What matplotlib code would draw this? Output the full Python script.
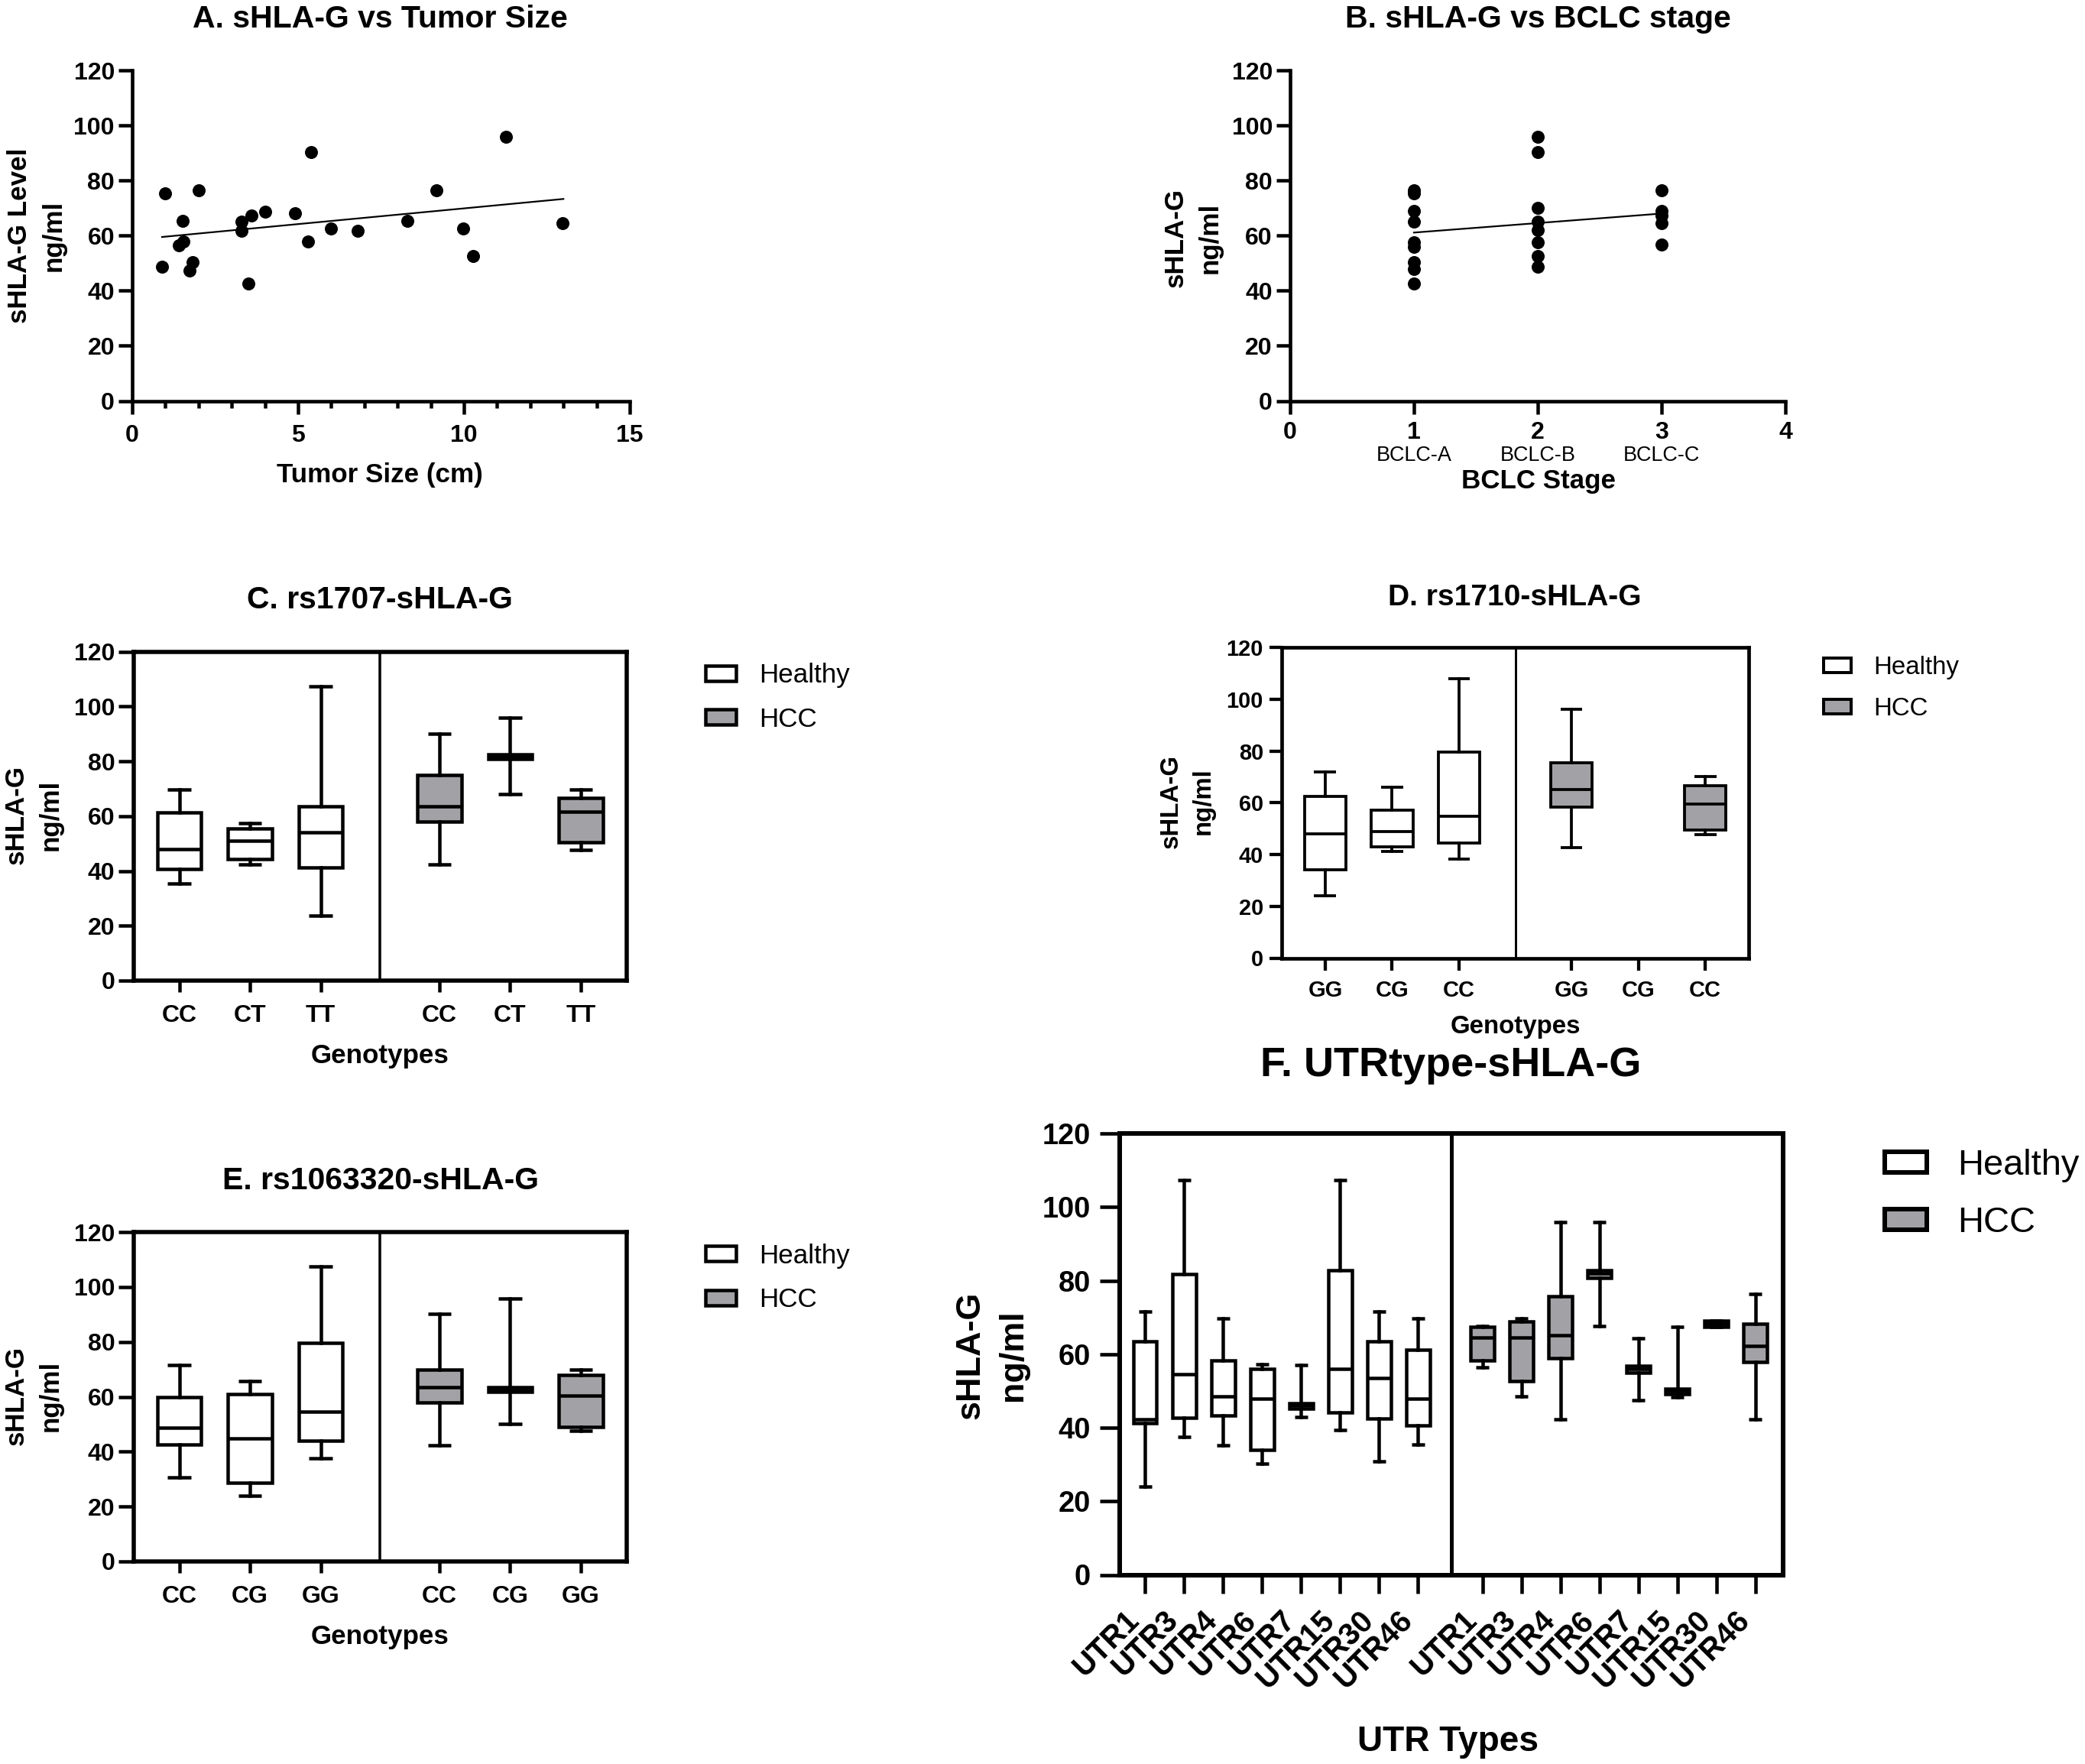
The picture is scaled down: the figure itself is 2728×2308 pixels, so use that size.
import numpy as np
import matplotlib
matplotlib.use('Agg')
import matplotlib.pyplot as plt
from matplotlib.patches import Patch
from matplotlib.ticker import MultipleLocator
from matplotlib.transforms import blended_transform_factory

plt.rcParams['font.family'] = ['Liberation Sans', 'DejaVu Sans']
plt.rcParams['font.weight'] = 'bold'
plt.rcParams['axes.titleweight'] = 'bold'
plt.rcParams['axes.labelweight'] = 'bold'

# ---------------- data ----------------
# A. sHLA-G vs tumour size
tumor_size = [1.0, 0.9, 1.41, 1.54, 1.52, 1.72, 1.83, 2.01, 3.3, 3.3, 3.6, 3.5,
              4.0, 4.9, 5.4, 5.3, 6.0, 6.8, 8.3, 9.18, 9.97, 10.28, 11.27, 12.97]
tumor_shlag = [75.4, 48.6, 56.4, 57.9, 65.4, 47.4, 50.3, 76.5, 65.0, 61.8, 67.3, 42.6,
               68.8, 68.2, 90.2, 57.8, 62.7, 61.6, 65.4, 76.5, 62.5, 52.7, 95.9, 64.4]
fitA_x = [0.9, 13.0]
fitA_y = [59.5, 73.3]

# B. sHLA-G vs BCLC stage
bclc_stage = [1, 1, 1, 1, 1, 1, 1, 1, 1, 2, 2, 2, 2, 2, 2, 2, 2, 3, 3, 3, 3, 3]
bclc_shlag = [76.5, 75.4, 69.0, 65.0, 57.5, 55.8, 50.3, 47.8, 42.6,
              95.9, 90.2, 70.0, 65.0, 62.1, 57.5, 52.6, 48.6,
              76.5, 69.0, 67.3, 64.4, 56.7]
fitB_x = [1, 3]
fitB_y = [61.1, 68.0]
bclc_ticks = [0, 1, 2, 3, 4]
bclc_names = ['BCLC-A', 'BCLC-B', 'BCLC-C']

groups = ['Healthy', 'HCC']
# box stats: [whisker low, Q1, median, Q3, whisker high]
rs1707_genotypes = ['CC', 'CT', 'TT']
rs1707_healthy = [[35.3, 40.7, 48.0, 61.3, 69.8],
                  [42.3, 44.4, 51.0, 55.6, 57.4],
                  [23.8, 41.4, 54.0, 63.7, 107.3]]
rs1707_hcc = [[42.3, 57.9, 63.5, 75.1, 90.1],
              [68.0, 80.8, 81.6, 82.5, 95.8],
              [47.6, 50.4, 61.7, 66.7, 69.8]]

rs1710_genotypes = ['GG', 'CG', 'CC']
rs1710_healthy = [[24.2, 34.1, 48.0, 62.4, 72.0],
                  [41.3, 42.9, 48.9, 57.2, 66.0],
                  [38.1, 44.3, 54.8, 79.5, 108.0]]
rs1710_hcc = [[42.8, 58.2, 65.1, 75.3, 96.1],
              None,
              [47.7, 49.5, 59.6, 66.5, 70.2]]

rs1063320_genotypes = ['CC', 'CG', 'GG']
rs1063320_healthy = [[30.7, 42.5, 48.8, 60.0, 71.5],
                     [24.0, 28.6, 44.9, 61.0, 65.7],
                     [37.7, 44.0, 54.6, 79.6, 107.5]]
rs1063320_hcc = [[42.3, 58.0, 63.6, 70.0, 90.2],
                 [50.0, 61.7, 62.5, 63.4, 95.9],
                 [47.7, 48.9, 60.4, 67.9, 70.0]]

utr_types = ['UTR1', 'UTR3', 'UTR4', 'UTR6', 'UTR7', 'UTR15', 'UTR30', 'UTR46']
utr_healthy = [[23.9, 41.3, 42.3, 63.5, 71.5],
               [37.5, 42.8, 54.6, 81.7, 107.4],
               [35.2, 43.3, 48.6, 58.2, 69.7],
               [30.2, 34.0, 47.9, 55.9, 57.3],
               [43.0, 45.1, 46.0, 46.6, 57.1],
               [39.4, 44.2, 56.1, 82.8, 107.4],
               [30.9, 42.5, 53.6, 63.5, 71.5],
               [35.4, 40.6, 47.9, 61.2, 69.7]]
utr_hcc = [[56.5, 58.2, 64.5, 67.4, 67.7],
           [48.5, 52.6, 64.5, 68.8, 69.7],
           [42.3, 58.9, 65.1, 75.7, 95.9],
           [67.7, 80.8, 82.0, 82.8, 95.9],
           [47.4, 55.0, 56.0, 56.8, 64.4],
           [48.4, 49.1, 50.0, 50.7, 67.4],
           [67.4, 67.4, 68.3, 69.0, 69.0],
           [42.3, 57.8, 62.2, 68.2, 76.4]]

y_ticks = [0, 20, 40, 60, 80, 100, 120]

# ---------------- figure ----------------
W, H = 2728, 2308
DPI = 72
GRAY = '#a2a2a6'
fig = plt.figure(figsize=(W / DPI, H / DPI), dpi=DPI)
fig.patch.set_facecolor('white')


def add_ax(l, r, t, b):
    ax = fig.add_axes([l / W, (H - b) / H, (r - l) / W, (b - t) / H])
    ax._box_px = (l, r, t, b)
    return ax


def axc(ax, X, Y):
    l, r, t, b = ax._box_px
    return (X - l) / (r - l), (b - Y) / (b - t)


def put_title(ax, text, X, Yb, fs):
    x, y = axc(ax, X, Yb)
    ax.set_title(text, fontsize=fs, x=x, y=y, va='baseline', pad=0)


def put_xlabel(ax, text, X, Yb, fs):
    ax.set_xlabel(text, fontsize=fs)
    ax.xaxis.label.set_va('baseline')
    ax.xaxis.set_label_coords(*axc(ax, X, Yb))


def put_ylabel(ax, text, X, Y, fs, ls=1.45):
    ax.set_ylabel(text, fontsize=fs, linespacing=ls)
    ax.yaxis.label.set_va('center')
    ax.yaxis.set_label_coords(*axc(ax, X, Y))


def put_legend(ax, X, Y, fs, hl, hh, pad, lw, lsp=0.7):
    handles = [Patch(facecolor='white', edgecolor='black', linewidth=lw, label=groups[0]),
               Patch(facecolor=GRAY, edgecolor='black', linewidth=lw, label=groups[1])]
    ax.legend(handles=handles, loc='upper left',
              bbox_to_anchor=(X / W, 1 - Y / H), bbox_transform=fig.transFigure,
              frameon=False, borderpad=0, borderaxespad=0,
              prop={'size': fs, 'weight': 'normal'},
              handlelength=hl, handleheight=hh, handletextpad=pad, labelspacing=lsp)


def box_panel(ax, cats, healthy, hcc, pos_h, pos_c, divider, xmax,
              width, capw, lw_box, lw_frame, lw_div):
    for data, pos, fc in ((healthy, pos_h, 'white'), (hcc, pos_c, GRAY)):
        stats, pp = [], []
        for v, p in zip(data, pos):
            if v is None:
                continue
            stats.append(dict(whislo=v[0], q1=v[1], med=v[2], q3=v[3], whishi=v[4], fliers=[]))
            pp.append(p)
        ax.bxp(stats, positions=pp, widths=width, capwidths=capw, patch_artist=True,
               showfliers=False, manage_ticks=False,
               boxprops=dict(facecolor=fc, edgecolor='black', linewidth=lw_box),
               medianprops=dict(color='black', linewidth=lw_box, solid_capstyle='butt'),
               whiskerprops=dict(color='black', linewidth=lw_box),
               capprops=dict(color='black', linewidth=lw_box, solid_capstyle='butt'))
    ax.axvline(divider, color='black', linewidth=lw_div, zorder=3)
    ax.set_xlim(0, xmax)
    ax.set_ylim(0, 120)
    ax.set_yticks(y_ticks)
    ax.set_xticks(list(pos_h) + list(pos_c))
    ax.set_xticklabels(list(cats) * 2)
    for s in ax.spines.values():
        s.set_linewidth(lw_frame)
        s.set_zorder(4)


# ---------- A ----------
axA = add_ax(173, 824, 92, 524.5)
axA.scatter(tumor_size, tumor_shlag, s=17 ** 2, color='black', linewidths=0, zorder=3)
axA.plot(fitA_x, fitA_y, color='black', linewidth=2.2)
axA.set_xlim(0, 15)
axA.set_ylim(0, 120)
axA.set_xticks([0, 5, 10, 15])
axA.xaxis.set_minor_locator(MultipleLocator(1))
axA.set_yticks(y_ticks)
for side in ('top', 'right'):
    axA.spines[side].set_visible(False)
for side in ('left', 'bottom'):
    axA.spines[side].set_linewidth(4.6)
axA.tick_params(axis='x', which='major', length=17, width=4.5, pad=14, labelsize=32)
axA.tick_params(axis='x', which='minor', length=9, width=4.5)
axA.tick_params(axis='y', length=18, width=4.5, pad=5, labelsize=32)
put_title(axA, 'A. sHLA-G vs Tumor Size', 497, 36.5, 41)
put_xlabel(axA, 'Tumor Size (cm)', 497, 631, 35)
put_ylabel(axA, 'sHLA-G Level\nng/ml', 47.5, 308, 35)

# ---------- B ----------
axB = add_ax(1688, 2336, 92, 524.5)
axB.scatter(bclc_stage, bclc_shlag, s=17 ** 2, color='black', linewidths=0, zorder=3)
axB.plot(fitB_x, fitB_y, color='black', linewidth=2.2)
axB.set_xlim(0, 4)
axB.set_ylim(0, 120)
axB.set_xticks(bclc_ticks)
axB.set_yticks(y_ticks)
for side in ('top', 'right'):
    axB.spines[side].set_visible(False)
for side in ('left', 'bottom'):
    axB.spines[side].set_linewidth(4.6)
axB.tick_params(axis='x', length=17, width=4.5, pad=10, labelsize=32)
axB.tick_params(axis='y', length=18, width=4.5, pad=5, labelsize=32)
trB = blended_transform_factory(axB.transData, fig.transFigure)
for i, name in enumerate(bclc_names):
    axB.text(bclc_ticks[i + 1], 1 - 603 / H, name, transform=trB, ha='center',
             va='baseline', fontsize=27, fontweight='normal')
put_title(axB, 'B. sHLA-G vs BCLC stage', 2012, 36.5, 41)
put_xlabel(axB, 'BCLC Stage', 2013, 639, 35)
put_ylabel(axB, 'sHLA-G\nng/ml', 1561, 311, 35)

# ---------- C ----------
posh3 = [0.65, 1.65, 2.65]
posc3 = [4.33, 5.33, 6.33]
axC = add_ax(174.5, 820, 852.7, 1283)
box_panel(axC, rs1707_genotypes, rs1707_healthy, rs1707_hcc, posh3, posc3, 3.49, 6.98,
          0.62, 0.33, 4.5, 5.5, 3.5)
axC.tick_params(axis='x', length=15, width=4.5, pad=16, labelsize=32)
axC.tick_params(axis='y', length=20, width=4.5, pad=4, labelsize=32)
put_title(axC, 'C. rs1707-sHLA-G', 497, 795.5, 41)
put_xlabel(axC, 'Genotypes', 497, 1390.5, 35)
put_ylabel(axC, 'sHLA-G\nng/ml', 44, 1066, 35)
put_legend(axC, 923, 867, 35, 1.13, 0.5, 0.86, 4.5)

# ---------- D ----------
axD = add_ax(1677, 2288, 847, 1253.5)
box_panel(axD, rs1710_genotypes, rs1710_healthy, rs1710_hcc, posh3, posc3, 3.49, 6.98,
          0.62, 0.33, 3.8, 4.7, 3.0)
axD.tick_params(axis='x', length=16, width=4.3, pad=12, labelsize=29)
axD.tick_params(axis='y', length=16, width=4.3, pad=8, labelsize=29)
put_title(axD, 'D. rs1710-sHLA-G', 1982, 792, 39)
put_xlabel(axD, 'Genotypes', 1982.5, 1352, 33)
put_ylabel(axD, 'sHLA-G\nng/ml', 1553, 1048, 33)
put_legend(axD, 2385.5, 858, 33, 1.1, 0.52, 0.88, 4.0)

# ---------- E ----------
axE = add_ax(174.5, 820, 1612, 2043)
box_panel(axE, rs1063320_genotypes, rs1063320_healthy, rs1063320_hcc, posh3, posc3, 3.49,
          6.98, 0.62, 0.33, 4.5, 5.5, 3.5)
axE.tick_params(axis='x', length=15, width=4.5, pad=16, labelsize=32)
axE.tick_params(axis='y', length=20, width=4.5, pad=4, labelsize=32)
put_title(axE, 'E. rs1063320-sHLA-G', 498, 1555.5, 41)
put_xlabel(axE, 'Genotypes', 497, 2150.5, 35)
put_ylabel(axE, 'sHLA-G\nng/ml', 44, 1826, 35)
put_legend(axE, 923, 1626.5, 35, 1.13, 0.5, 0.86, 4.5)

# ---------- F ----------
posh8 = [0.65 + i for i in range(8)]
posc8 = [9.3 + i for i in range(8)]
axF = add_ax(1465, 2332.5, 1483, 2060.5)
box_panel(axF, utr_types, utr_healthy, utr_hcc, posh8, posc8, 8.5, 17.0,
          0.6, 0.33, 4.5, 6.0, 5.0)
axF.tick_params(axis='x', length=24, width=4.6, pad=16, labelsize=40)
axF.tick_params(axis='y', length=26, width=4.6, pad=12, labelsize=38)
for lab in axF.get_xticklabels():
    lab.set_rotation(45)
    lab.set_ha('right')
    lab.set_va('top')
put_title(axF, 'F. UTRtype-sHLA-G', 1898, 1408, 54)
put_xlabel(axF, 'UTR Types', 1895, 2290.7, 46)
put_ylabel(axF, 'sHLA-G\nng/ml', 1298, 1773, 45)
put_legend(axF, 2466, 1503, 47, 1.17, 0.5, 0.85, 6.0, lsp=0.67)

fig.savefig('out.png', dpi=DPI, facecolor='white')
